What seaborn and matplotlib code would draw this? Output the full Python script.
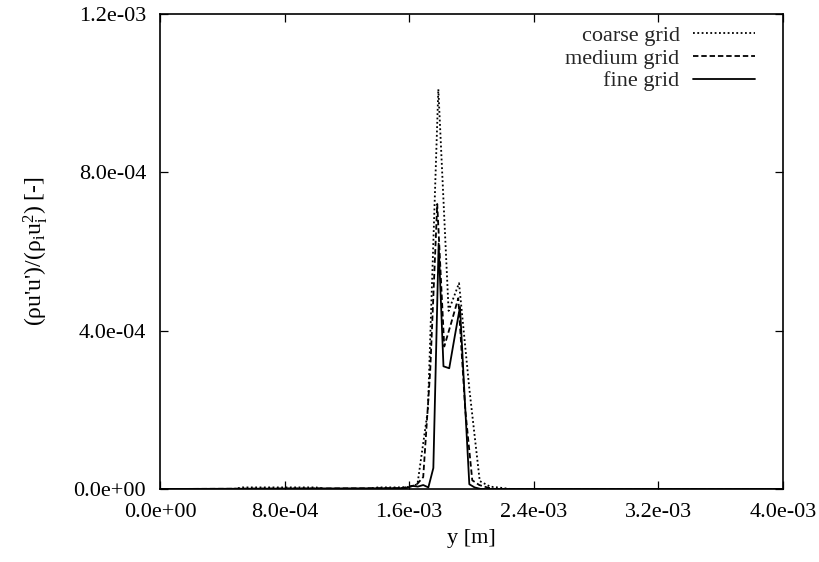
import numpy as np
import pandas as pd
import matplotlib
matplotlib.use("Agg")
import matplotlib.pyplot as plt
from matplotlib.ticker import FuncFormatter, MultipleLocator
import seaborn as sns

# ── Data (x in m, value in [-]) ──────────────
coarse_y = [0.0, 0.47e-3, 0.53e-3, 0.60e-3, 0.67e-3, 0.73e-3, 0.80e-3, 0.87e-3, 0.93e-3, 1.00e-3,
            1.07e-3, 1.33e-3, 1.40e-3, 1.47e-3, 1.53e-3, 1.60e-3, 1.653e-3, 1.72e-3, 1.787e-3,
            1.853e-3, 1.92e-3, 1.987e-3, 2.053e-3, 2.12e-3, 2.19e-3, 2.25e-3, 4.0e-3]
coarse_v = [0.0, 0.0, 0.004e-3, 0.004e-3, 0.004e-3, 0.004e-3, 0.004e-3, 0.004e-3, 0.004e-3, 0.004e-3,
            0.0, 0.0, 0.004e-3, 0.004e-3, 0.004e-3, 0.005e-3, 0.012e-3, 0.20e-3, 1.01e-3,
            0.45e-3, 0.52e-3, 0.25e-3, 0.02e-3, 0.006e-3, 0.003e-3, 0.0, 0.0]

medium_y = [0.0, 1.55e-3, 1.60e-3, 1.645e-3, 1.69e-3, 1.735e-3, 1.78e-3, 1.825e-3, 1.87e-3,
            1.915e-3, 1.96e-3, 2.005e-3, 2.05e-3, 2.10e-3, 2.15e-3, 4.0e-3]
medium_v = [0.0, 0.002e-3, 0.006e-3, 0.010e-3, 0.03e-3, 0.30e-3, 0.72e-3, 0.36e-3, 0.42e-3,
            0.482e-3, 0.20e-3, 0.022e-3, 0.01e-3, 0.004e-3, 0.0, 0.0]

fine_y = [0.0, 1.58e-3, 1.62e-3, 1.655e-3, 1.69e-3, 1.723e-3, 1.755e-3, 1.789e-3, 1.82e-3,
          1.857e-3, 1.89e-3, 1.926e-3, 1.955e-3, 1.986e-3, 2.02e-3, 2.06e-3, 4.0e-3]
fine_v = [0.0, 0.002e-3, 0.008e-3, 0.006e-3, 0.010e-3, 0.004e-3, 0.053e-3, 0.62e-3, 0.31e-3,
          0.305e-3, 0.38e-3, 0.46e-3, 0.24e-3, 0.012e-3, 0.004e-3, 0.0, 0.0]

SERIES = [
    ("coarse grid", coarse_y, coarse_v, (0, (1.0, 1.4))),
    ("medium grid", medium_y, medium_v, (0, (3.0, 1.6))),
    ("fine grid", fine_y, fine_v, "-"),
]

# ── Style ────────────────────────────────────
sns.set_theme(style="ticks")
plt.rcParams["font.family"] = ["Liberation Serif", "DejaVu Serif"]
plt.rcParams["mathtext.fontset"] = "custom"
plt.rcParams["mathtext.rm"] = "Liberation Serif"
plt.rcParams["mathtext.it"] = "Liberation Serif:italic"

FS = 16

fig = plt.figure(figsize=(8.19, 5.62), dpi=100, facecolor="white")
ax = fig.add_axes([0.1954, 0.1299, 0.956 - 0.1954, 0.9751 - 0.1299])

for name, xs, vs, ls in SERIES:
    df = pd.DataFrame({"y": xs, "v": vs})
    sns.lineplot(data=df, x="y", y="v", ax=ax, color="black", linestyle=ls,
                 linewidth=1.3, label=name, sort=False, estimator=None)

ax.set_xlim(0, 4.0e-3)
ax.set_ylim(0, 1.2e-3)
ax.xaxis.set_major_locator(MultipleLocator(8.0e-4))
ax.yaxis.set_major_locator(MultipleLocator(4.0e-4))
fmt = FuncFormatter(lambda v, p: f"{v:.1e}")
ax.xaxis.set_major_formatter(fmt)
ax.yaxis.set_major_formatter(fmt)

ax.tick_params(direction="in", length=6, width=0.9, colors="black",
               labelsize=FS, top=True, right=True)
ax.tick_params(axis="x", pad=10)
ax.tick_params(axis="y", pad=10)
for spine in ax.spines.values():
    spine.set_visible(True)
    spine.set_edgecolor("black")
    spine.set_linewidth(1.2)

ax.set_xlabel("y [m]", fontsize=FS, color="black", labelpad=5)
ax.set_ylabel(r"(ρu'u')/(ρ$_\mathregular{i}$u$_\mathregular{i}^\mathregular{2}$) [-]",
              fontsize=17, color="black", labelpad=17)

leg = ax.legend(loc="upper right", frameon=False, markerfirst=False, fontsize=FS,
                handlelength=2.8, handletextpad=0.6, labelspacing=0.1,
                borderaxespad=0.0, bbox_to_anchor=(0.9695, 0.995))

fig.savefig("out.png", dpi=100, facecolor="white")
